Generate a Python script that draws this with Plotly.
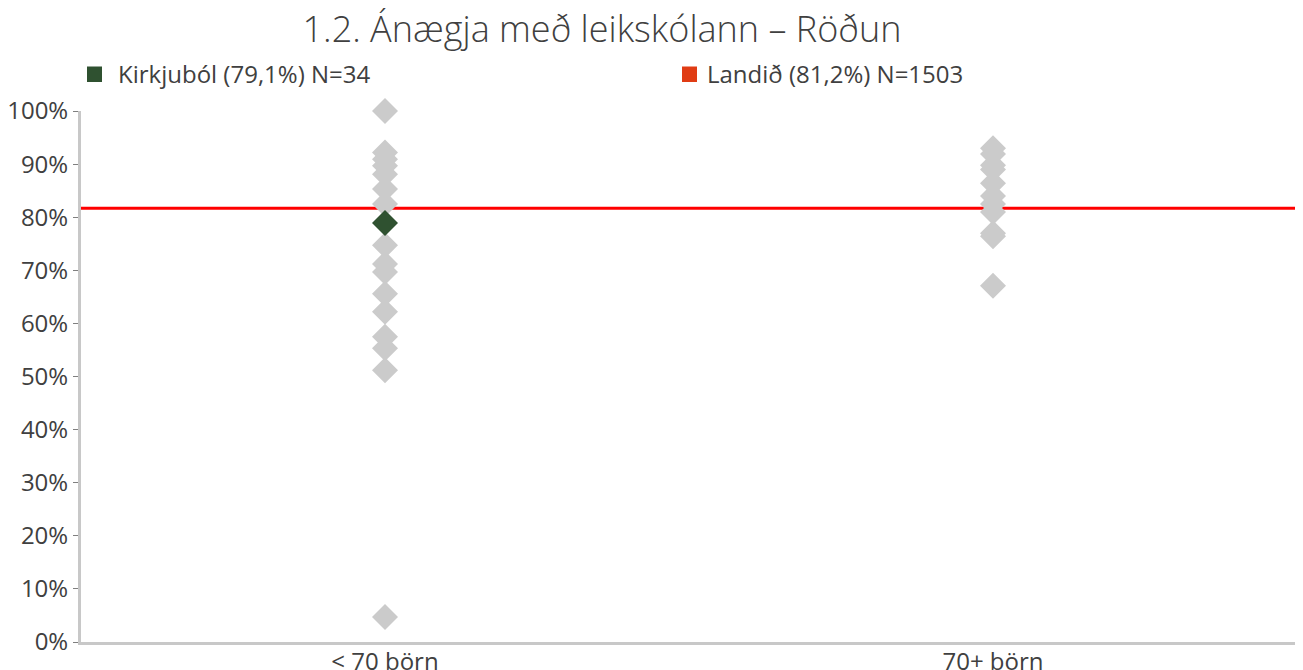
import plotly.graph_objects as go

categories = ["< 70 börn", "70+ börn"]
small_values = [100.0, 92.2, 90.9, 89.7, 88.1, 85.3, 82.5, 74.7, 71.2, 69.7,
                65.6, 62.2, 57.5, 55.3, 51.2, 4.7]
large_values = [93.0, 91.9, 89.8, 89.0, 86.4, 84.0, 82.5, 81.0, 77.0, 76.4, 67.1]
school_name = "Kirkjuból (79,1%) N=34"
school_value = 78.9
national_name = "Landið (81,2%) N=1503"
national_value = 81.7
title_text = "1.2. Ánægja með leikskólann – Röðun"
y_ticks = list(range(0, 101, 10))
y_tick_labels = [f"{v}%" for v in y_ticks]

GRAY = "#cbcbcb"
GREEN = "#2f5130"
LEG_RED = "#e03c14"
LINE_RED = "#ff0000"
TXT = "#404040"
FONT = "Open Sans"
FS = 24

# page is rendered with an 8px body margin; figure coords = page coords - 8
OFF = 8
W, H = 1295, 662
L, R, T, B = 73, 6, 103, 28

fig = go.Figure()

fig.add_trace(go.Scatter(x=[categories[0]] * len(small_values), y=small_values,
                         mode="markers", showlegend=False, cliponaxis=False,
                         marker=dict(symbol="diamond", size=20, color=GRAY,
                                     line=dict(width=0))))
fig.add_trace(go.Scatter(x=[categories[1]] * len(large_values), y=large_values,
                         mode="markers", showlegend=False, cliponaxis=False,
                         marker=dict(symbol="diamond", size=20, color=GRAY,
                                     line=dict(width=0))))
fig.add_trace(go.Scatter(x=[categories[0]], y=[school_value], name=school_name,
                         mode="markers", showlegend=False, cliponaxis=False,
                         marker=dict(symbol="diamond", size=20, color=GREEN,
                                     line=dict(width=0))))

fig.add_shape(type="line", xref="paper", yref="y", x0=0, x1=1,
              y0=national_value, y1=national_value,
              line=dict(color=LINE_RED, width=3), layer="below")

# legend drawn as squares + text (page pixel positions converted to paper coords)
pw, ph = W - L - R, H - T - B
def px(x):
    return (x - OFF - L) / pw
def py(y):
    return (H - B - (y - OFF)) / ph

legend_items = [(school_name, GREEN, 87, 102, 116),
                (national_name, LEG_RED, 682, 697, 705)]
for name, col, x0, x1, tx in legend_items:
    fig.add_shape(type="rect", xref="paper", yref="paper",
                  x0=px(x0), x1=px(x1), y0=py(82), y1=py(66.5),
                  fillcolor=col, line=dict(width=0))
    fig.add_annotation(text=name, xref="paper", yref="paper", x=px(tx), y=py(74),
                       xanchor="left", yanchor="middle", showarrow=False,
                       font=dict(family=FONT, size=FS, color=TXT))

fig.update_layout(
    width=W, height=H,
    margin=dict(l=L, r=R, t=T, b=B),
    paper_bgcolor="white", plot_bgcolor="white",
    showlegend=False,
    font=dict(family=FONT, size=FS, color=TXT),
    title=dict(text=title_text, x=(602 - OFF) / W, xref="container", xanchor="center",
               y=1 - (29 - OFF) / H, yref="container", yanchor="middle",
               font=dict(family=FONT, size=36, color=TXT, weight=300)),
    xaxis=dict(type="category", categoryorder="array", categoryarray=categories,
               range=[-0.5, 1.5], showline=True, linecolor="#c8c8c8", linewidth=3,
               showgrid=False, zeroline=False, ticks="", fixedrange=True,
               automargin=False, ticklabelstandoff=-4,
               tickfont=dict(family=FONT, size=FS, color=TXT)),
    yaxis=dict(range=[0, 100], tickvals=y_ticks, ticktext=y_tick_labels,
               showline=True, linecolor="#c8c8c8", linewidth=3,
               showgrid=False, zeroline=False, ticks="outside", ticklen=5,
               tickcolor="#7f7f7f", tickwidth=1, fixedrange=True,
               automargin=False,
               tickfont=dict(family=FONT, size=FS, color=TXT)),
)

fig.write_html("out.html")
